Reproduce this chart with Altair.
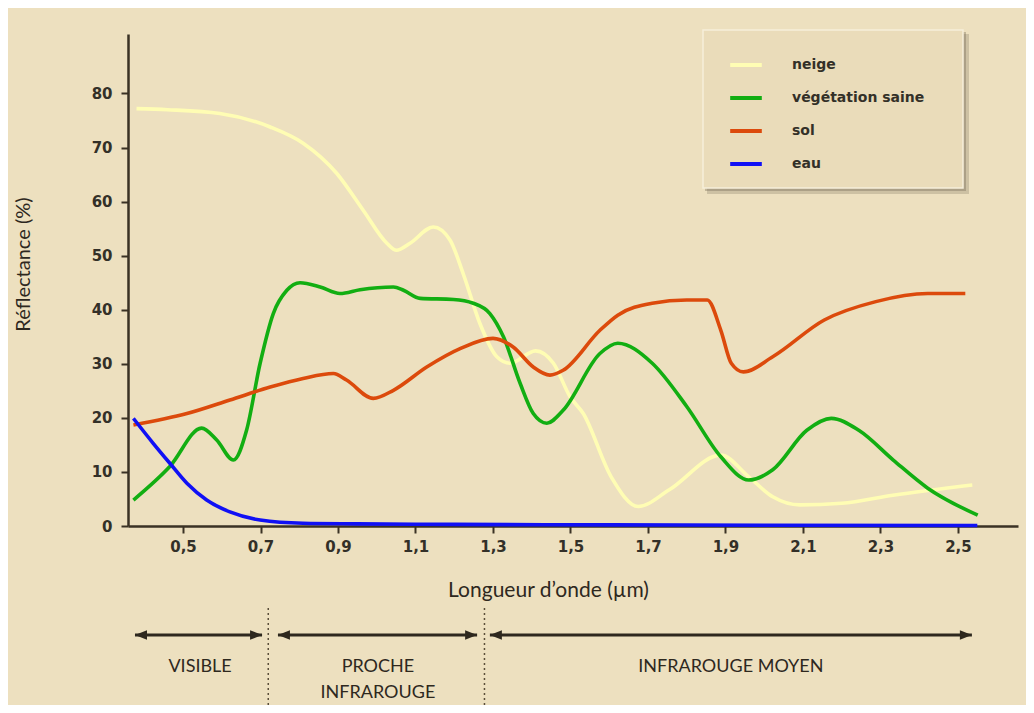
import altair as alt
import pandas as pd

# ---- data ----
series_names = ["neige", "végétation saine", "sol", "eau"]
series_colors = ["#FFFDB4", "#12AE12", "#DC4A0C", "#1010F5"]

neige_x = [0.38, 0.46, 0.595, 0.725, 0.81, 0.897, 0.965, 1.026, 1.051, 1.086, 1.146, 1.189,
           1.223, 1.266, 1.31, 1.344, 1.41, 1.456, 1.499, 1.533, 1.605, 1.675, 1.755, 1.888,
           1.96, 2.022, 2.092, 2.2, 2.332, 2.537]
neige_y = [77.2, 77.0, 76.3, 73.8, 70.8, 65.2, 58.4, 52.3, 51.0, 52.3, 55.3, 52.9,
           46.7, 37.5, 31.3, 30.1, 32.4, 30.1, 23.9, 20.8, 9.1, 3.6, 6.7, 13.1,
           9.1, 5.4, 3.9, 4.2, 5.7, 7.6]

veg_x = [0.372, 0.466, 0.548, 0.587, 0.63, 0.664, 0.699, 0.733, 0.768, 0.802, 0.854, 0.905,
         0.957, 1.043, 1.069, 1.112, 1.198, 1.249, 1.292, 1.327, 1.37, 1.404, 1.439, 1.481,
         1.576, 1.622, 1.711, 1.80, 1.888, 1.96, 2.022, 2.11, 2.173, 2.244, 2.333, 2.422, 2.551]
veg_y = [4.8, 11.0, 18.1, 15.9, 12.2, 17.7, 30.1, 39.3, 43.6, 45.0, 44.2, 43.0,
         43.7, 44.2, 43.6, 42.1, 41.9, 41.2, 39.3, 35.0, 26.4, 20.8, 19.0, 21.4,
         31.9, 33.8, 30.1, 22.1, 12.8, 8.5, 10.4, 17.7, 19.9, 17.7, 12.2, 7.0, 2.0]

sol_x = [0.372, 0.51, 0.621, 0.725, 0.81, 0.888, 0.922, 0.991, 1.043, 1.129, 1.215, 1.30,
         1.352, 1.404, 1.447, 1.481, 1.576, 1.622, 1.711, 1.80, 1.853, 1.888, 1.915, 1.946,
         2.022, 2.155, 2.288, 2.422, 2.519]
sol_y = [18.7, 20.8, 23.3, 25.7, 27.3, 28.2, 27.0, 23.6, 25.1, 29.4, 32.8, 34.7,
         33.1, 29.4, 27.9, 28.8, 36.2, 39.0, 41.2, 41.8, 41.8, 36.2, 30.1, 28.5,
         31.3, 38.1, 41.5, 43.0, 43.0]

eau_x = [0.372, 0.423, 0.466, 0.51, 0.561, 0.621, 0.699, 0.81, 0.95, 1.2, 1.6, 2.0, 2.55]
eau_y = [19.9, 15.3, 11.6, 7.9, 4.8, 2.6, 1.1, 0.5, 0.4, 0.3, 0.2, 0.15, 0.1]

y_ticks = [0, 10, 20, 30, 40, 50, 60, 70, 80]
x_ticks = [0.5, 0.7, 0.9, 1.1, 1.3, 1.5, 1.7, 1.9, 2.1, 2.3, 2.5]

region_labels = ["VISIBLE", "PROCHE\nINFRAROUGE", "INFRAROUGE MOYEN"]
region_centers = [0.544, 1.003, 1.914]
region_start = [0.376, 0.745, 1.292]
region_end = [0.704, 1.259, 2.536]
region_dividers = [0.72, 1.278]

# ---- tables ----
rows = []
for name, xs, ys in [("neige", neige_x, neige_y), ("végétation saine", veg_x, veg_y),
                     ("sol", sol_x, sol_y), ("eau", eau_x, eau_y)]:
    for a, b in zip(xs, ys):
        rows.append({"lambda": a, "refl": b, "serie": name})
df = pd.DataFrame(rows)
regions = pd.DataFrame({"label": region_labels, "center": region_centers,
                        "start": region_start, "end": region_end})
dividers = pd.DataFrame({"pos": region_dividers})

BG = "#EDE0BF"
INK = "#2E281E"
W, H = 890, 492

xscale = alt.Scale(domain=[0.358, 2.655], nice=False, zero=False)
yscale = alt.Scale(domain=[0, 91], nice=False)

lines = alt.Chart(df).mark_line(interpolate="monotone", strokeWidth=3.6).encode(
    x=alt.X("lambda:Q", scale=xscale,
            axis=alt.Axis(values=x_ticks, grid=False, title="Longueur d’onde (µm)",
                          labelExpr="replace(format(datum.value, '.1f'), '.', ',')",
                          domainColor="#3A3224", domainWidth=2.5, tickColor="#3A3224",
                          tickWidth=2, tickSize=7, labelPadding=6,
                          labelFont="DejaVu Sans", labelFontWeight="bold", labelFontSize=15,
                          labelColor="#333028",
                          titleFont="Lato", titleFontSize=21, titleFontWeight="normal",
                          titleColor=INK, titleX=420, titleY=64, titleBaseline="middle",
                          titleAnchor="start", titleAlign="center")),
    y=alt.Y("refl:Q", scale=yscale,
            axis=alt.Axis(values=y_ticks, grid=False, title="Réflectance (%)",
                          domainColor="#3A3224", domainWidth=2.5, tickColor="#3A3224",
                          tickWidth=2, tickSize=7, labelPadding=9,
                          labelFont="DejaVu Sans", labelFontWeight="bold", labelFontSize=15,
                          labelColor="#333028",
                          titleFont="Lato", titleFontSize=20, titleFontWeight="normal",
                          titleColor=INK, titleX=-105, titleY=230, titleAngle=-90,
                          titleBaseline="middle", titleAlign="center", titleAnchor="start")),
    color=alt.Color("serie:N", sort=series_names,
                    scale=alt.Scale(domain=series_names, range=series_colors),
                    legend=alt.Legend(title=None, orient="none", legendX=600, legendY=13,
                                      padding=0, symbolType="stroke", symbolSize=1000,
                                      symbolStrokeWidth=4, labelOffset=28, rowPadding=7,
                                      labelFont="DejaVu Sans", labelFontWeight="bold",
                                      labelFontSize=14, labelColor="#333028")),
    order=alt.Order("lambda:Q"),
)

one = pd.DataFrame({"k": [0]})
shadow_outer = alt.Chart(one).mark_rect(color="#6F6550", opacity=0.25).encode(
    x=alt.value(579), x2=alt.value(841), y=alt.value(0), y2=alt.value(160))
shadow_inner = alt.Chart(one).mark_rect(color="#6F6550", opacity=0.35).encode(
    x=alt.value(577), x2=alt.value(838), y=alt.value(-2), y2=alt.value(157))
box = alt.Chart(one).mark_rect(color="#EADCBA", stroke="#F6EEDA", strokeWidth=1.5).encode(
    x=alt.value(575), x2=alt.value(835), y=alt.value(-4), y2=alt.value(154))

arrows = alt.Chart(regions).mark_rule(color=INK, strokeWidth=3).encode(
    x=alt.X("start:Q", scale=xscale), x2="end:Q", y=alt.value(601))

left_heads = alt.Chart(regions).mark_point(
    shape="M0,0L2,-0.8L2,0.8Z", filled=True, color=INK, size=144, opacity=1).encode(
    x=alt.X("start:Q", scale=xscale), y=alt.value(601))
right_heads = alt.Chart(regions).mark_point(
    shape="M0,0L-2,-0.8L-2,0.8Z", filled=True, color=INK, size=144, opacity=1).encode(
    x=alt.X("end:Q", scale=xscale), y=alt.value(601))

labels = alt.Chart(regions).mark_text(
    font="Lato", fontSize=18, color=INK, lineBreak="\n", lineHeight=26,
    baseline="middle", align="center").encode(
    x=alt.X("center:Q", scale=xscale), y=alt.value(633), text="label:N")

divs = alt.Chart(dividers).mark_rule(color="#5A4E3A", strokeWidth=1.5,
                                     strokeDash=[2, 3]).encode(
    x=alt.X("pos:Q", scale=xscale), y=alt.value(574), y2=alt.value(672))

chart = alt.layer(shadow_outer, shadow_inner, box, lines, divs, arrows,
                  left_heads, right_heads, labels).properties(
    width=W, height=H,
    autosize=alt.AutoSizeParams(type="none"),
    padding={"left": 120, "top": 26, "right": 8, "bottom": 179},
    background=BG,
).configure_view(stroke=None)

chart.save("out.html", embed_options={"renderer": "svg", "actions": False})
